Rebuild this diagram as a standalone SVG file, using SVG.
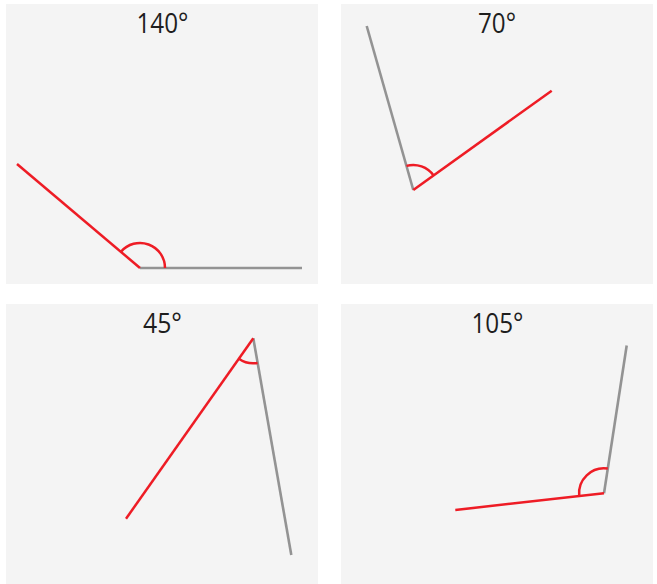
<svg xmlns="http://www.w3.org/2000/svg" width="657" height="584" viewBox="0 0 657 584">
<style>
.bg{fill:#f4f4f4}
.red{stroke:#ee1c25;stroke-width:2.5;fill:none;stroke-linecap:butt}
.gray{stroke:#939393;stroke-width:2.6;fill:none}
.lbl{font-family:"Open Sans","Liberation Sans",sans-serif;font-size:28px;font-weight:400;fill:#1e1e1e;text-anchor:middle}
</style>
<rect width="657" height="584" fill="#ffffff"/>
<g id="panel-140">
<rect class="bg" x="6" y="4" width="312" height="280"/>
<text class="lbl" x="162.5" y="33.3" textLength="52" lengthAdjust="spacingAndGlyphs">140°</text>
<line class="gray" x1="140" y1="268" x2="302" y2="268"/>
<line class="red" x1="140" y1="268" x2="17" y2="164"/>
<path class="red" d="M165,268 A25,25 0 0 0 120.85,251.9"/>
</g>
<g id="panel-70">
<rect class="bg" x="341" y="4" width="312" height="280"/>
<text class="lbl" x="497" y="33.3" textLength="38" lengthAdjust="spacingAndGlyphs">70°</text>
<line class="gray" x1="413.3" y1="190" x2="366.7" y2="26"/>
<line class="red" x1="413.3" y1="190" x2="551.7" y2="90.7"/>
<path class="red" d="M433.6,175.4 A25,25 0 0 0 406.5,165.9"/>
</g>
<g id="panel-45">
<rect class="bg" x="6" y="304" width="312" height="280"/>
<text class="lbl" x="162.5" y="333" textLength="39" lengthAdjust="spacingAndGlyphs">45°</text>
<line class="gray" x1="253.3" y1="338.3" x2="291.3" y2="555"/>
<line class="red" x1="253.3" y1="338.3" x2="126" y2="518.7"/>
<path class="red" d="M238.9,358.7 A25,25 0 0 0 257.6,362.9"/>
</g>
<g id="panel-105">
<rect class="bg" x="341" y="304" width="312" height="280"/>
<text class="lbl" x="497.5" y="333" textLength="52" lengthAdjust="spacingAndGlyphs">105°</text>
<line class="gray" x1="604" y1="493.3" x2="626.7" y2="345.5"/>
<line class="red" x1="604" y1="493.3" x2="455.3" y2="510"/>
<path class="red" d="M607.8,468.6 A25,25 0 0 0 579.2,496.1"/>
</g>
</svg>
